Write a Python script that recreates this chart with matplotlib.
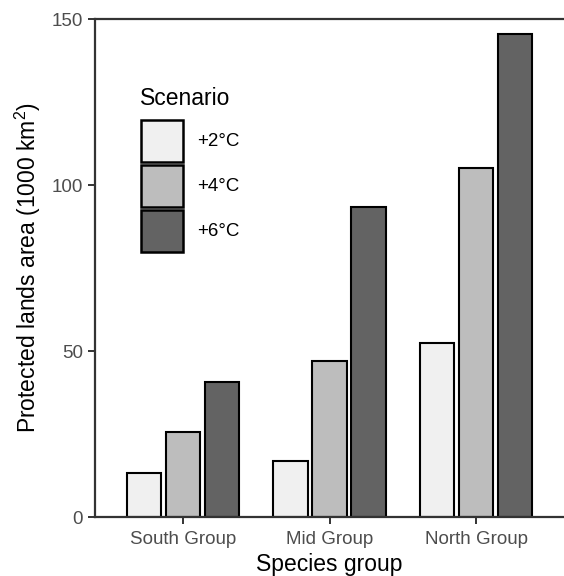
import matplotlib
matplotlib.use("Agg")
import matplotlib.pyplot as plt
from matplotlib.patches import Patch
import numpy as np

plt.rcParams['font.family'] = ['Liberation Sans', 'DejaVu Sans']
plt.rcParams['mathtext.fontset'] = 'custom'
plt.rcParams['mathtext.rm'] = 'Liberation Sans'
plt.rcParams['mathtext.it'] = 'Liberation Sans'

groups = ["South Group", "Mid Group", "North Group"]
scenarios = ["+2°C", "+4°C", "+6°C"]
values = {
    "+2°C": [13.3, 17.0, 52.4],
    "+4°C": [25.7, 47.0, 105.1],
    "+6°C": [40.6, 93.5, 145.5],
}
colors = ["#F0F0F0", "#BDBDBD", "#636363"]
yticks = [0, 50, 100, 150]

W, H = 564, 576
fig = plt.figure(figsize=(W/100, H/100), dpi=100)
ax = fig.add_axes([95/W, 59/H, 469/W, 498/H])

x = np.arange(len(groups))
offset = 0.265
width = 0.235
for i, s in enumerate(scenarios):
    ax.bar(x + (i - 1) * offset, values[s], width=width, color=colors[i],
           edgecolor="black", linewidth=1.5, label=s, zorder=2)

ax.set_xlim(-0.6, 2.6)
ax.set_ylim(0, 150)
ax.set_xticks(x)
ax.set_xticklabels(groups)
ax.set_yticks(yticks)
ax.tick_params(axis='both', colors="#333333", width=1.4, length=5,
               labelsize=13.5, labelcolor="#4D4D4D")
ax.tick_params(axis='x', pad=5)
for sp in ["left", "bottom", "top"]:
    ax.spines[sp].set_color("#333333")
    ax.spines[sp].set_linewidth(1.6)
ax.spines["right"].set_visible(False)

ax.set_xlabel("Species group", fontsize=16.5, labelpad=4)
ax.set_ylabel("Protected lands area (1000 km$^{2}$)", fontsize=16.5, labelpad=6)

# legend
fig.text(140/W, 1 - 105/H, "Scenario", fontsize=16.5, va="baseline", ha="left")
handles = [Patch(facecolor=colors[i], edgecolor="black", linewidth=1.8, label=s)
           for i, s in enumerate(scenarios)]
leg = fig.legend(handles=handles, loc="upper left",
                 bbox_to_anchor=(141/W, 1 - 120/H), frameon=False, fontsize=13.5,
                 handlelength=2.24, handleheight=3.07, borderpad=0,
                 labelspacing=0.16, handletextpad=0.75, borderaxespad=0)

fig.savefig("out.png", dpi=100)
